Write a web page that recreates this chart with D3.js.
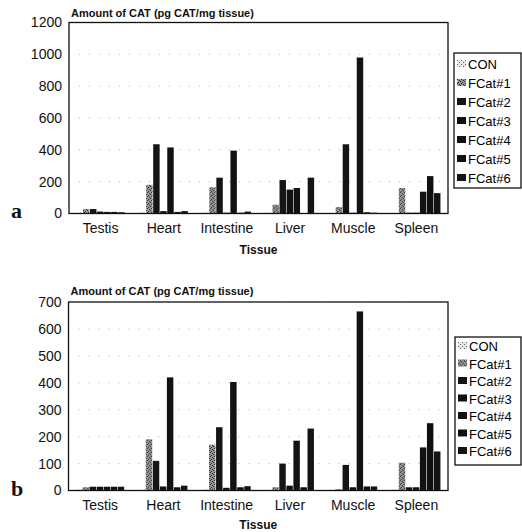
<!DOCTYPE html>
<html>
<head>
<meta charset="utf-8">
<script src="https://cdn.jsdelivr.net/npm/d3@7"></script>
<style>
  body { margin: 0; background: #fff; }
  svg { display: block; font-family: "Liberation Sans", Arial, sans-serif; }
</style>
</head>
<body>
<div class="responsive-svg-container"></div>
<script>
const tissues = ["Testis", "Heart", "Intestine", "Liver", "Muscle", "Spleen"];
const seriesNames = ["CON", "FCat#1", "FCat#2", "FCat#3", "FCat#4", "FCat#5", "FCat#6"];

// panel a  (Testis, Heart, Intestine, Liver, Muscle, Spleen)
const conA   = [5, 5, 5, 5, 3, 3];
const fcat1A = [28, 180, 165, 55, 40, 160];
const fcat2A = [28, 435, 225, 210, 435, 5];
const fcat3A = [12, 15, 5, 150, 5, 5];
const fcat4A = [10, 415, 395, 160, 980, 137];
const fcat5A = [10, 10, 5, 3, 8, 235];
const fcat6A = [8, 15, 12, 225, 5, 128];
const ticksA = [0, 200, 400, 600, 800, 1000, 1200];

// panel b
const conB   = [5, 3, 5, 3, 3, 5];
const fcat1B = [12, 190, 170, 12, 5, 103];
const fcat2B = [14, 110, 235, 100, 95, 12];
const fcat3B = [14, 15, 10, 18, 12, 12];
const fcat4B = [14, 420, 403, 185, 665, 160];
const fcat5B = [14, 12, 12, 12, 15, 250];
const fcat6B = [14, 18, 16, 230, 15, 145];
const ticksB = [0, 100, 200, 300, 400, 500, 600, 700];

const svg = d3.select('.responsive-svg-container')
    .append('svg')
        .attr("width", 522)
        .attr("height", 532)
        .attr("viewBox", "0 0 522 532");

// speckled fills for CON and FCat#1
const defs = svg.append("defs");
const speckle = (id, bg, dot, dots) => {
    const p = defs.append("pattern").attr("id", id)
        .attr("patternUnits", "userSpaceOnUse").attr("width", 4).attr("height", 4);
    p.append("rect").attr("width", 4).attr("height", 4).attr("fill", bg);
    dots.forEach(([x, y]) => p.append("rect").attr("x", x).attr("y", y)
        .attr("width", 1).attr("height", 1).attr("fill", dot));
};
speckle("patCon", "#e6e6e6", "#666", [[0, 0], [2, 2]]);
speckle("patF1", "#9a9a9a", "#222", [[0, 0], [2, 1], [1, 3], [3, 2]]);

const fills = ["url(#patCon)", "url(#patF1)", "#151515", "#111", "#121212", "#101010", "#141414"];

const buildRows = (cols) => tissues.map((t, i) => {
    const row = { tissue: t };
    seriesNames.forEach((s, j) => row[s] = cols[j][i]);
    return row;
});

const drawPanel = (cfg) => {
    const data = buildRows(cfg.cols);
    const g = svg.append("g");

    const xScale = d3.scaleBand()
        .domain(tissues)
        .range([cfg.left, cfg.right])
        .paddingInner(0.22)
        .paddingOuter(0.11);
    const x1 = d3.scaleBand()
        .domain(seriesNames)
        .range([0, xScale.bandwidth()]);
    const yScale = d3.scaleLinear()
        .domain([0, cfg.max])
        .range([cfg.bottom, cfg.top]);

    // faint dotted gridlines
    g.selectAll(".grid")
        .data(cfg.ticks.slice(1))
        .join("line")
        .attr("x1", cfg.left).attr("x2", cfg.right)
        .attr("y1", d => yScale(d)).attr("y2", d => yScale(d))
        .attr("stroke", "#b5b5b5")
        .attr("stroke-width", 1)
        .attr("stroke-dasharray", "1,9");

    g.selectAll(".grp")
        .data(data)
        .join("g")
        .attr("transform", d => `translate(${xScale(d.tissue)},0)`)
        .selectAll("rect")
        .data(d => seriesNames.map((s, j) => ({ s, j, v: d[s] })))
        .join("rect")
        .attr("x", d => x1(d.s))
        .attr("y", d => yScale(d.v))
        .attr("width", x1.bandwidth() - 0.6)
        .attr("height", d => cfg.bottom - yScale(d.v))
        .attr("fill", d => fills[d.j]);

    // frame
    g.append("rect")
        .attr("x", cfg.left).attr("y", cfg.top)
        .attr("width", cfg.right - cfg.left).attr("height", cfg.bottom - cfg.top)
        .attr("fill", "none").attr("stroke", "#111").attr("stroke-width", 1.3);

    const yAxis = g.append("g")
        .attr("transform", `translate(${cfg.left},0)`)
        .call(d3.axisLeft(yScale).tickValues(cfg.ticks).tickFormat(d3.format("d"))
            .tickSize(0).tickPadding(7));
    yAxis.select(".domain").remove();
    yAxis.selectAll("text").attr("font-size", 14).attr("fill", "#111")
        .attr("font-family", "Liberation Sans, Arial, sans-serif");

    const xAxis = g.append("g")
        .attr("transform", `translate(0,${cfg.bottom})`)
        .call(d3.axisBottom(xScale).tickSize(0).tickPadding(10));
    xAxis.select(".domain").remove();
    xAxis.selectAll("text").attr("font-size", 14).attr("fill", "#111")
        .attr("font-family", "Liberation Sans, Arial, sans-serif");

    g.append("text")
        .attr("x", cfg.left + 2).attr("y", cfg.titleY)
        .attr("font-size", 11).attr("font-weight", "bold").attr("fill", "#111")
        .text("Amount of CAT (pg CAT/mg tissue)");

    g.append("text")
        .attr("x", (cfg.left + cfg.right) / 2).attr("y", cfg.xTitleY)
        .attr("text-anchor", "middle")
        .attr("font-size", 12).attr("font-weight", "bold").attr("fill", "#111")
        .text("Tissue");

    g.append("text")
        .attr("x", 11).attr("y", cfg.letterY)
        .attr("font-family", "Liberation Serif, DejaVu Serif, serif")
        .attr("font-size", 22).attr("font-weight", "bold").attr("fill", "#111")
        .text(cfg.letter);

    // legend
    const lg = g.append("g");
    lg.append("rect")
        .attr("x", cfg.legX).attr("y", cfg.legTop)
        .attr("width", 521 - cfg.legX).attr("height", cfg.legBottom - cfg.legTop)
        .attr("fill", "#fff").attr("stroke", "#111").attr("stroke-width", 1.3);
    const items = lg.selectAll(".item")
        .data(seriesNames)
        .join("g")
        .attr("transform", (d, i) => `translate(${cfg.legX + 3},${cfg.legFirst + i * cfg.legStep})`);
    items.append("rect")
        .attr("x", 0).attr("y", -4).attr("width", 9).attr("height", 7)
        .attr("fill", (d, i) => fills[i]);
    items.append("text")
        .attr("x", 11).attr("y", 5)
        .attr("font-size", 13).attr("fill", "#000")
        .text(d => d);
};

drawPanel({
    cols: [conA, fcat1A, fcat2A, fcat3A, fcat4A, fcat5A, fcat6A],
    ticks: ticksA, max: 1200,
    left: 69, right: 448, top: 22.5, bottom: 213.5,
    titleY: 17, xTitleY: 254, letter: "a", letterY: 218,
    legX: 454, legTop: 53, legBottom: 188, legFirst: 64, legStep: 19
});

drawPanel({
    cols: [conB, fcat1B, fcat2B, fcat3B, fcat4B, fcat5B, fcat6B],
    ticks: ticksB, max: 700,
    left: 68.5, right: 448, top: 302, bottom: 490.5,
    titleY: 295, xTitleY: 529, letter: "b", letterY: 496,
    legX: 455, legTop: 337, legBottom: 465, legFirst: 346, legStep: 17.5
});
</script>
</body>
</html>
